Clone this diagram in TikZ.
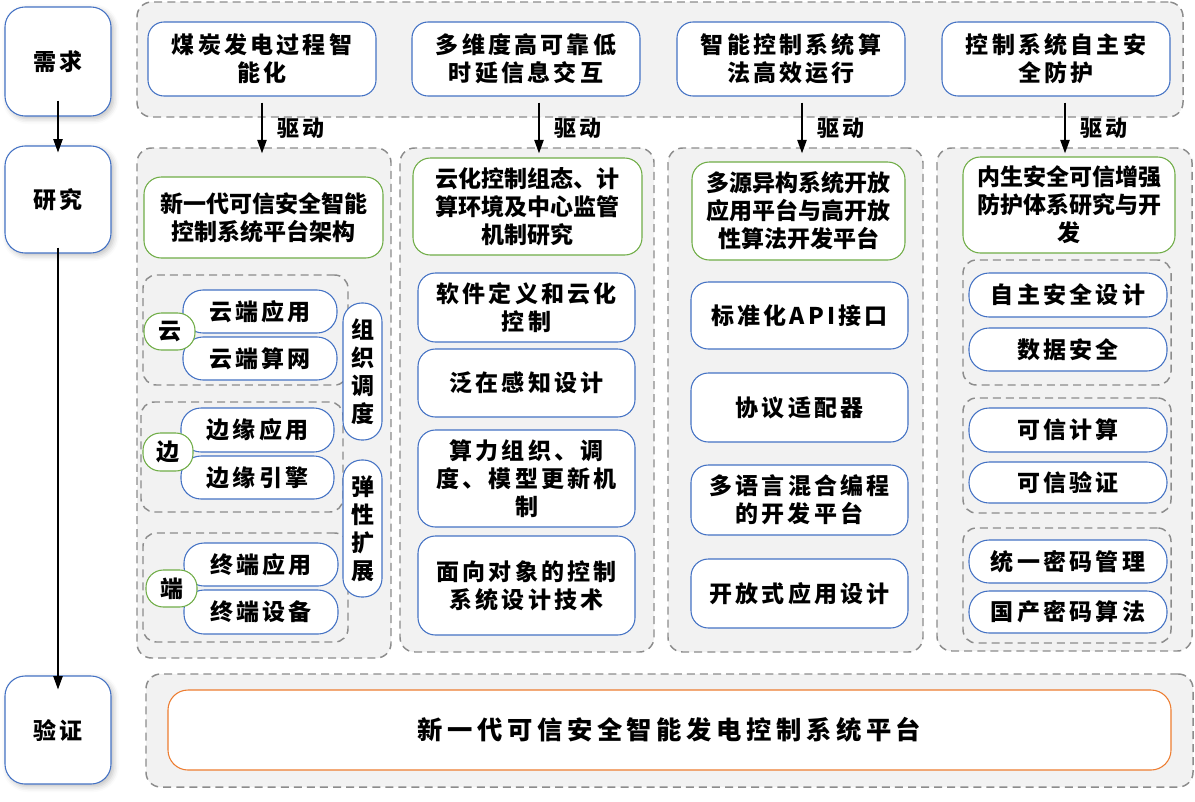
\documentclass[tikz,border=0pt]{standalone}
\usepackage{fontspec}
\newfontfamily\cjk{Noto Sans CJK SC}
\newfontfamily\cjks{Noto Sans CJK SC}[LetterSpace=14]
\newfontfamily\cjkw{Noto Sans CJK SC}[LetterSpace=18]
\usetikzlibrary{arrows.meta,shadows.blur,calc}
\definecolor{bblue}{HTML}{4472C4}
\definecolor{ggreen}{HTML}{70AD47}
\definecolor{oorange}{HTML}{ED7D31}
\definecolor{dgray}{HTML}{8C8C8C}
\definecolor{lgray}{HTML}{F2F2F2}
\tikzset{
  cont/.style={draw=dgray, fill=lgray, line width=1.1pt, dash pattern=on 6pt off 3.8pt, rounded corners=11pt, inner sep=0pt},
  sub/.style={cont, rounded corners=10pt},
  txt/.style={align=center, text=black, font={\cjks\bfseries\fontsize{17.25}{21}\selectfont}},
  box/.style={txt, draw=bblue, fill=white, line width=0.8pt, inner sep=0pt, rounded corners=13pt},
  topbox/.style={box, rounded corners=12pt},
  gbox/.style={box, draw=ggreen, rounded corners=13pt, font={\cjk\bfseries\fontsize{17.25}{21}\selectfont}},
  pill/.style={box, rounded corners=15pt},
  vpill/.style={box, rounded corners=14pt, font={\cjk\bfseries\fontsize{17.25}{21}\selectfont}},
  lab/.style={box, draw=ggreen, rounded corners=13pt, font={\cjk\bfseries\fontsize{17.25}{21}\selectfont}},
  side/.style={box, rounded corners=15pt, blur shadow={shadow xshift=2pt, shadow yshift=-2pt, shadow blur radius=4pt, shadow opacity=25}},
  plat/.style={box, draw=oorange, rounded corners=15pt, font={\cjkw\bfseries\fontsize{19}{23}\selectfont}},
  arr/.style={-{Triangle[width=7pt,length=10pt]}, line width=0.9pt, black},
  drv/.style={midway, anchor=west, inner sep=0pt, xshift=11pt, font={\cjks\bfseries\fontsize{16.5}{20}\selectfont}}
}
% \bx{style}{x1}{y1}{x2}{y2}{name}{text}, coordinates in pixels of the reference
\newcommand\bx[7]{\node[#1, minimum width={(#4-#2)*0.75pt}, minimum height={(#5-#3)*0.75pt}] (#6) at ({(#2+#4)/2},{(#3+#5)/2}) {#7};}
\begin{document}
\begin{tikzpicture}[x=0.75pt,y=-0.75pt]
\useasboundingbox (0,0) rectangle (1195,801);
% left stage boxes
\bx{side}{5}{7}{111}{116}{need}{需求}
\bx{side}{5}{146}{111}{253}{res}{研究}
\bx{side}{5}{676}{111}{784}{ver}{验证}
\draw[arr] ($(need.south)+(0,-16)$) -- ($(res.north)+(0,7)$);
\draw[arr] ($(res.south)+(0,-6)$) -- ($(ver.north)+(0,14)$);
% top containers
\bx{cont}{137}{2}{1183}{117}{topc}{}
\bx{topbox}{148}{22}{376}{96}{t1}{煤炭发电过程智\\能化}
\bx{topbox}{412}{22}{640}{96}{t2}{多维度高可靠低\\时延信息交互}
\bx{topbox}{677}{22}{905}{96}{t3}{智能控制系统算\\法高效运行}
\bx{topbox}{942}{22}{1170}{96}{t4}{控制系统自主安\\全防护}
% research columns
\bx{cont}{137}{148}{391}{658}{c1}{}
\bx{cont}{400}{148}{654}{652}{c2}{}
\bx{cont}{668}{148}{923}{652}{c3}{}
\bx{cont}{937}{148}{1192}{651}{c4}{}
% drive arrows
\draw[arr] ($(t1.south)+(0,6)$) -- node[drv] {驱动} ($(t1.south |- c1.north)+(0,6)$);
\draw[arr] ($(t2.south)+(13,6)$) -- node[drv] {驱动} ($(t2.south |- c2.north)+(13,6)$);
\draw[arr] ($(t3.south)+(11,6)$) -- node[drv] {驱动} ($(t3.south |- c3.north)+(11,6)$);
\draw[arr] ($(t4.south)+(9,6)$) -- node[drv] {驱动} ($(t4.south |- c4.north)+(9,6)$);
% column 1
\bx{gbox}{144}{177}{383}{258}{g1}{新一代可信安全智能\\控制系统平台架构}
\bx{sub}{143}{275}{348}{385}{s11}{}
\bx{sub}{141}{402}{343}{512}{s12}{}
\bx{sub}{143}{533}{348}{642}{s13}{}
\bx{pill}{183}{290}{337}{333}{p11}{云端应用}
\bx{pill}{183}{337}{337}{380}{p12}{云端算网}
\bx{lab}{144}{313}{195}{350}{l1}{云}
\bx{pill}{181}{408}{334}{452}{p21}{边缘应用}
\bx{pill}{181}{456}{334}{499}{p22}{边缘引擎}
\bx{lab}{143}{433}{193}{471}{l2}{边}
\bx{pill}{184}{543}{338}{586}{p31}{终端应用}
\bx{pill}{184}{590}{338}{634}{p32}{终端设备}
\bx{lab}{146}{570}{197}{607}{l3}{端}
\bx{vpill}{343}{303}{382}{440}{v1}{组\\织\\调\\度}
\bx{vpill}{343}{460}{382}{597}{v2}{弹\\性\\扩\\展}
% column 2
\bx{gbox}{413}{158}{642}{255}{g2}{云化控制组态、计\\算环境及中心监管\\机制研究}
\bx{box}{418}{273}{635}{342}{b21}{软件定义和云化\\控制}
\bx{box}{418}{349}{635}{417}{b22}{泛在感知设计}
\bx{box}{418}{430}{635}{527}{b23}{算力组织、调\\度、模型更新机\\制}
\bx{box}{418}{536}{635}{635}{b24}{面向对象的控制\\系统设计技术}
% column 3
\bx{gbox}{692}{162}{905}{260}{g3}{多源异构系统开放\\应用平台与高开放\\性算法开发平台}
\bx{box}{691}{282}{908}{349}{b31}{标准化API接口}
\bx{box}{691}{373}{908}{442}{b32}{协议适配器}
\bx{box}{691}{465}{908}{535}{b33}{多语言混合编程\\的开发平台}
\bx{box}{691}{559}{908}{628}{b34}{开放式应用设计}
% column 4
\bx{gbox}{963}{157}{1175}{253}{g4}{内生安全可信增强\\防护体系研究与开\\发}
\bx{sub}{963}{260}{1171}{385}{s41}{}
\bx{pill}{969}{273}{1167}{317}{q41}{自主安全设计}
\bx{pill}{969}{328}{1167}{371}{q42}{数据安全}
\bx{sub}{963}{398}{1171}{513}{s42}{}
\bx{pill}{969}{408}{1167}{452}{q43}{可信计算}
\bx{pill}{969}{462}{1167}{503}{q44}{可信验证}
\bx{sub}{963}{528}{1171}{643}{s43}{}
\bx{pill}{969}{540}{1167}{583}{q45}{统一密码管理}
\bx{pill}{969}{591}{1167}{633}{q46}{国产密码算法}
% validation
\bx{cont}{146}{674}{1193}{787}{bc}{}
\bx{plat}{168}{690}{1171}{770}{pl}{新一代可信安全智能发电控制系统平台}
\end{tikzpicture}
\end{document}
